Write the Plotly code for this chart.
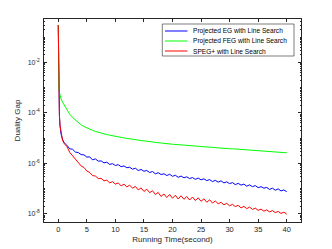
import plotly.graph_objects as go

# Running time (seconds)
TIME = [0, 0.02, 0.05, 0.1, 0.2, 0.3, 0.5, 0.75, 1.0,
        1.5, 2.0, 2.5, 3.0, 3.5, 4.0, 4.5, 5.0, 5.5, 6.0, 6.5, 7.0, 7.5, 8.0, 8.5, 9.0, 9.5, 10.0,
        10.5, 11.0, 11.5, 12.0, 12.5, 13.0, 13.5, 14.0, 14.5, 15.0, 15.5, 16.0, 16.5, 17.0, 17.5, 18.0,
        18.5, 19.0, 19.5, 20.0, 20.5, 21.0, 21.5, 22.0, 22.5, 23.0, 23.5, 24.0, 24.5, 25.0, 25.5, 26.0,
        26.5, 27.0, 27.5, 28.0, 28.5, 29.0, 29.5, 30.0, 30.5, 31.0, 31.5, 32.0, 32.5, 33.0, 33.5, 34.0,
        34.5, 35.0, 35.5, 36.0, 36.5, 37.0, 37.5, 38.0, 38.5, 39.0, 39.5, 40.0]

# log10 of the duality gap
EG_LOG10 = [-0.52, -1.5, -2.6, -3.4, -4.1, -4.5, -4.85, -5.05, -5.17,
            -5.28, -5.42, -5.44, -5.55, -5.57, -5.65, -5.66, -5.75, -5.74, -5.86, -5.82, -5.91, -5.90, -5.98, -5.95, -6.04, -6.01, -6.08,
            -6.05, -6.13, -6.10, -6.17, -6.15, -6.23, -6.19, -6.28, -6.24, -6.31, -6.28, -6.36, -6.32, -6.41, -6.37, -6.44,
            -6.41, -6.48, -6.43, -6.51, -6.47, -6.55, -6.50, -6.57, -6.53, -6.60, -6.56, -6.63, -6.58, -6.65, -6.61, -6.68,
            -6.64, -6.72, -6.67, -6.74, -6.69, -6.77, -6.73, -6.80, -6.76, -6.84, -6.79, -6.86, -6.82, -6.90, -6.85, -6.92,
            -6.88, -6.96, -6.92, -6.98, -6.95, -7.03, -6.98, -7.06, -7.01, -7.09, -7.05, -7.12]

FEG_LOG10 = [-0.52, -2.0, -2.8, -3.0, -3.2, -3.32, -3.45, -3.57, -3.67,
             -3.90, -4.05, -4.18, -4.29, -4.39, -4.47, -4.54, -4.60, -4.65, -4.69, -4.73, -4.77, -4.80, -4.83, -4.86, -4.88, -4.91, -4.93,
             -4.95, -4.97, -4.99, -5.01, -5.03, -5.04, -5.06, -5.08, -5.09, -5.11, -5.12, -5.14, -5.15, -5.17, -5.18, -5.19,
             -5.21, -5.22, -5.23, -5.24, -5.25, -5.26, -5.27, -5.28, -5.29, -5.30, -5.31, -5.32, -5.33, -5.34, -5.35, -5.35,
             -5.36, -5.37, -5.38, -5.38, -5.39, -5.40, -5.41, -5.42, -5.42, -5.43, -5.44, -5.45, -5.46, -5.47, -5.47, -5.48,
             -5.49, -5.50, -5.51, -5.52, -5.52, -5.53, -5.54, -5.55, -5.56, -5.56, -5.57, -5.58]

SPEG_LOG10 = [-0.52, -1.5, -2.6, -3.4, -4.1, -4.5, -4.85, -5.08, -5.2,
              -5.33, -5.56, -5.70, -5.86, -5.97, -6.10, -6.16, -6.30, -6.36, -6.48, -6.50, -6.60, -6.59, -6.69, -6.66, -6.77, -6.72, -6.82,
              -6.77, -6.89, -6.82, -6.93, -6.86, -6.98, -6.91, -7.05, -6.97, -7.11, -7.02, -7.16, -7.08, -7.23, -7.15, -7.31,
              -7.21, -7.35, -7.23, -7.38, -7.26, -7.41, -7.28, -7.42, -7.31, -7.45, -7.33, -7.47, -7.36, -7.50, -7.40, -7.54,
              -7.44, -7.57, -7.49, -7.60, -7.54, -7.64, -7.58, -7.68, -7.62, -7.71, -7.66, -7.76, -7.70, -7.79, -7.73, -7.82,
              -7.77, -7.86, -7.81, -7.89, -7.84, -7.92, -7.87, -7.95, -7.90, -7.98, -7.93, -8.01]

SERIES_NAMES = ["Projected EG with Line Search",
                "Projected FEG with Line Search",
                "SPEG+ with Line Search"]
SERIES_COLORS = ["#0000ff", "#00ff00", "#ff0000"]

X_TICKS = [0, 5, 10, 15, 20, 25, 30, 35, 40]
Y_TICKS = [1e-8, 1e-6, 1e-4, 1e-2]
Y_TICK_TEXT = ["10<sup>-8</sup>", "10<sup>-6</sup>", "10<sup>-4</sup>", "10<sup>-2</sup>"]

AX = "#262626"
FONT = "Liberation Sans, Arial, sans-serif"

fig = go.Figure()
for name, color, logs in zip(SERIES_NAMES, SERIES_COLORS, [EG_LOG10, FEG_LOG10, SPEG_LOG10]):
    fig.add_trace(go.Scatter(x=TIME, y=[10 ** v for v in logs], mode="lines", name=name,
                             line=dict(color=color, width=1)))

# the page body adds an 8px offset, so the figure is 8px smaller than the window
OFF = 8
W, H = 332 - OFF, 249 - OFF
L, T = 44 - OFF, 19 - OFF
R, B = W - (301 - OFF), H - (222 - OFF)
pw, ph = W - L - R, H - T - B

def px(x):  # window pixel -> paper
    return (x - OFF - L) / pw

def py(y):
    return (H - B - (y - OFF)) / ph

fig.update_layout(
    width=W, height=H,
    margin=dict(l=L, r=R, t=T, b=B, pad=0),
    paper_bgcolor="white", plot_bgcolor="white",
    showlegend=False,
    font=dict(family=FONT, size=8, color=AX),
    xaxis=dict(range=[-2.5, 42.5], tickvals=X_TICKS, ticks="inside", ticklen=3, tickwidth=0.6,
               tickcolor=AX, showline=True, linecolor=AX, linewidth=0.6, mirror="allticks",
               showgrid=False, zeroline=False, automargin=False,
               tickfont=dict(size=7.5, color=AX, family=FONT),
               title=dict(text="Running Time(second)", font=dict(size=8, color=AX, family=FONT), standoff=3)),
    yaxis=dict(type="log", range=[-8.32, -0.28], tickvals=Y_TICKS, ticktext=Y_TICK_TEXT,
               ticks="inside", ticklen=3, tickwidth=0.6, tickcolor=AX, ticklabelstandoff=2,
               minor=dict(ticks="inside", ticklen=1.5, dtick="D1", tickcolor=AX, tickwidth=0.5, showgrid=False),
               showline=True, linecolor=AX, linewidth=0.6, mirror="allticks",
               showgrid=False, zeroline=False, automargin=False,
               tickfont=dict(size=7, color=AX, family=FONT),
               title=dict(text="Duality Gap", font=dict(size=8, color=AX, family=FONT), standoff=5)),
)

# compact legend box (MATLAB style)
fig.add_shape(type="rect", xref="paper", yref="paper",
              x0=px(162.3), x1=px(294), y0=py(56), y1=py(24),
              line=dict(color=AX, width=0.6), fillcolor="white", layer="above")
for i, (name, color) in enumerate(zip(SERIES_NAMES, SERIES_COLORS)):
    yy = 31 + 10 * i
    fig.add_shape(type="line", xref="paper", yref="paper",
                  x0=px(165), x1=px(187.5), y0=py(yy), y1=py(yy),
                  line=dict(color=color, width=1), layer="above")
    fig.add_annotation(xref="paper", yref="paper", x=px(190.5), y=py(yy), text=name,
                       showarrow=False, xanchor="left", yanchor="middle",
                       font=dict(size=6.6, color="#000000", family=FONT))

fig.write_html("out.html")
